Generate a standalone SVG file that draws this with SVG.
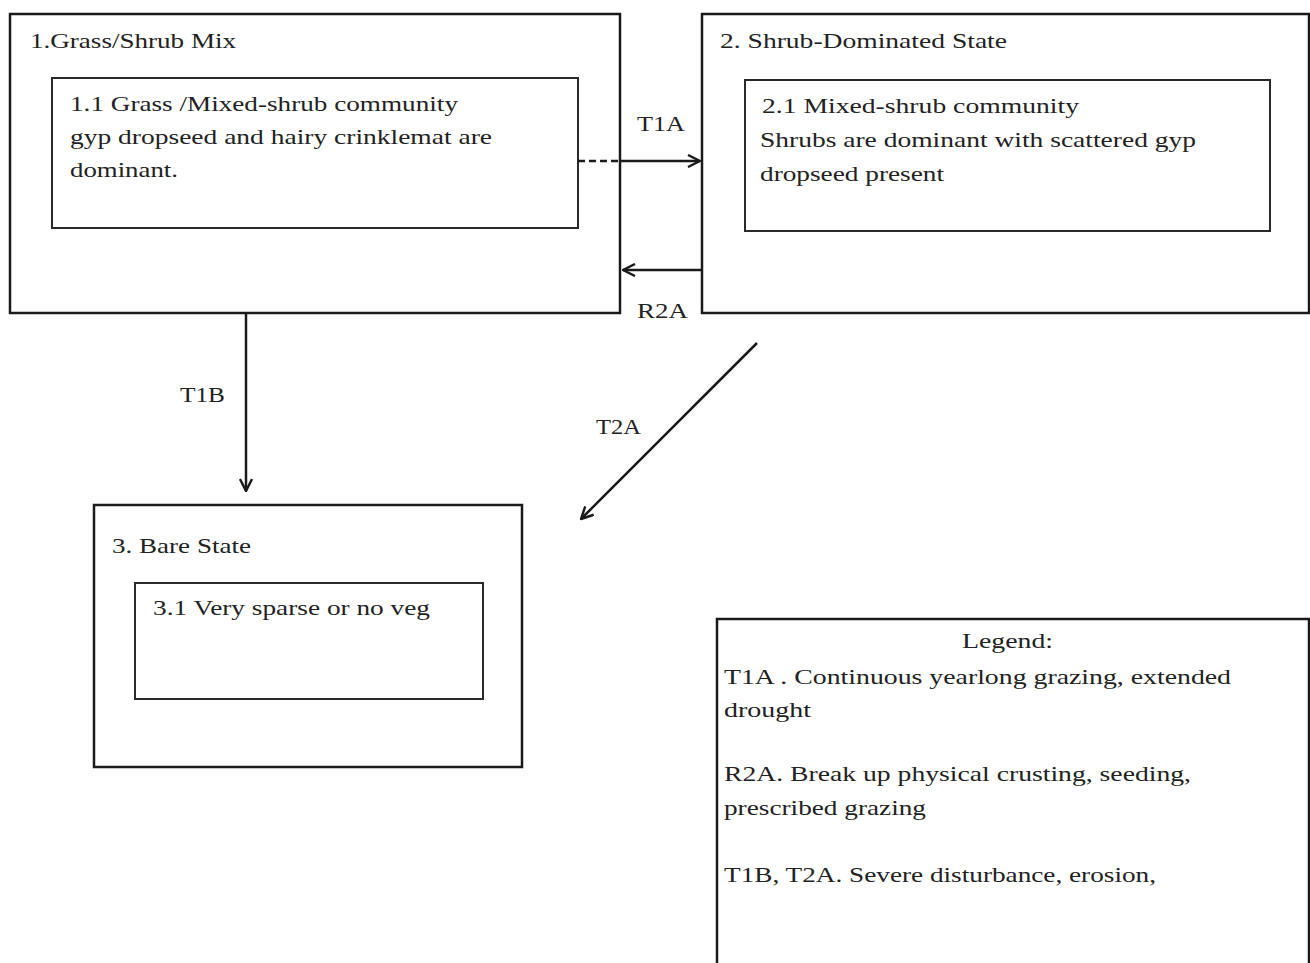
<svg xmlns="http://www.w3.org/2000/svg" width="1310" height="963" viewBox="0 0 1310 963">
<style>
.box{fill:#fff;stroke:#1a1a1a;stroke-width:2.5}
.inner{fill:#fff;stroke:#2a2a2a;stroke-width:2}
.t{font-family:"Liberation Serif","Times New Roman",serif;font-size:21px;fill:#222}
.c{stroke:#1a1a1a;stroke-width:2.5;fill:none}
</style>
<defs>
<marker id="ah" viewBox="0 0 14 14" refX="13" refY="7" markerWidth="14" markerHeight="14" markerUnits="userSpaceOnUse" orient="auto">
<path d="M1,1 L13,7 L1,13" fill="none" stroke="#1a1a1a" stroke-width="2.4"/>
</marker>
</defs>
<rect width="1310" height="963" fill="#fff"/>
<g id="state1">
<rect class="box" x="10" y="14" width="610" height="299"/>
<text class="t" x="30" y="48" textLength="206" lengthAdjust="spacingAndGlyphs">1.Grass/Shrub Mix</text>
</g>
<g id="community1-1">
<rect class="inner" x="52" y="78" width="526" height="150"/>
<text class="t" x="70" y="111" textLength="388" lengthAdjust="spacingAndGlyphs">1.1 Grass /Mixed-shrub community</text>
<text class="t" x="70" y="144" textLength="422" lengthAdjust="spacingAndGlyphs">gyp dropseed and hairy  crinklemat  are</text>
<text class="t" x="70" y="177" textLength="108" lengthAdjust="spacingAndGlyphs">dominant.</text>
</g>
<g id="state2">
<rect class="box" x="702" y="14" width="607" height="299"/>
<text class="t" x="720" y="48" textLength="287" lengthAdjust="spacingAndGlyphs">2. Shrub-Dominated State</text>
</g>
<g id="community2-1">
<rect class="inner" x="745" y="80" width="525" height="151"/>
<text class="t" x="762" y="113" textLength="317" lengthAdjust="spacingAndGlyphs">2.1  Mixed-shrub community</text>
<text class="t" x="760" y="147" textLength="436" lengthAdjust="spacingAndGlyphs">Shrubs are  dominant with scattered gyp</text>
<text class="t" x="760" y="181" textLength="184" lengthAdjust="spacingAndGlyphs">dropseed present</text>
</g>
<g id="state3">
<rect class="box" x="94" y="505" width="428" height="262"/>
<text class="t" x="112" y="553" textLength="139" lengthAdjust="spacingAndGlyphs">3. Bare State</text>
</g>
<g id="community3-1">
<rect class="inner" x="135" y="583" width="348" height="116"/>
<text class="t" x="153" y="615" textLength="277" lengthAdjust="spacingAndGlyphs">3.1 Very sparse or no veg</text>
</g>
<g id="legend">
<rect class="box" x="717" y="619" width="592" height="360"/>
<text class="t" x="962" y="648" textLength="91" lengthAdjust="spacingAndGlyphs">Legend:</text>
<text class="t" x="724" y="684" textLength="507" lengthAdjust="spacingAndGlyphs">T1A . Continuous yearlong grazing, extended</text>
<text class="t" x="724" y="717" textLength="87" lengthAdjust="spacingAndGlyphs">drought</text>
<text class="t" x="724" y="781" textLength="467" lengthAdjust="spacingAndGlyphs">R2A. Break up physical  crusting, seeding,</text>
<text class="t" x="724" y="815" textLength="202" lengthAdjust="spacingAndGlyphs">prescribed grazing</text>
<text class="t" x="724" y="882" textLength="432" lengthAdjust="spacingAndGlyphs">T1B, T2A.  Severe disturbance, erosion,</text>
</g>
<g id="connectors">
<line class="c" x1="578" y1="161" x2="620" y2="161" stroke-dasharray="7,4"/>
<line class="c" x1="620" y1="161" x2="700" y2="161" marker-end="url(#ah)"/>
<text class="t" x="637" y="131" textLength="48" lengthAdjust="spacingAndGlyphs">T1A</text>
<line class="c" x1="702" y1="270" x2="623" y2="270" marker-end="url(#ah)"/>
<text class="t" x="637" y="318" textLength="51" lengthAdjust="spacingAndGlyphs">R2A</text>
<line class="c" x1="246" y1="313" x2="246" y2="491" marker-end="url(#ah)"/>
<text class="t" x="180" y="402" textLength="45" lengthAdjust="spacingAndGlyphs">T1B</text>
<line class="c" x1="757" y1="343" x2="581" y2="519" stroke-width="2.2" marker-end="url(#ah)"/>
<text class="t" x="596" y="434" textLength="45" lengthAdjust="spacingAndGlyphs">T2A</text>
</g>
</svg>
